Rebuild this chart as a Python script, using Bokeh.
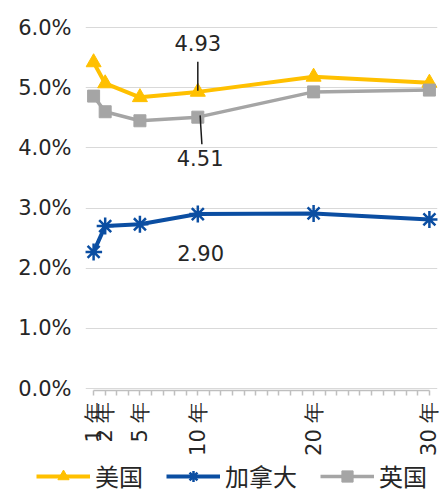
import math
from bokeh.plotting import figure
from bokeh.layouts import column, row
from bokeh.models import (Range1d, FixedTicker, PrintfTickFormatter, Legend, LegendItem,
                          ColumnDataSource)
from bokeh.core.properties import value
from bokeh.embed import file_html
from bokeh.resources import INLINE

# ---- data ----
years = [1, 2, 5, 10, 20, 30]
year_labels = ["1 年", "2 年", "5 年", "10 年", "20 年", "30 年"]
us = [5.42, 5.07, 4.84, 4.93, 5.18, 5.08]
ca = [2.27, 2.70, 2.73, 2.90, 2.91, 2.81]
uk = [4.86, 4.60, 4.45, 4.51, 4.93, 4.96]
series_names = ["美国", "加拿大", "英国"]
y_ticks = [0, 1, 2, 3, 4, 5, 6]

US_C = "#FFC000"
CA_C = "#0B4EA2"
UK_C = "#A5A5A5"
TXT = "#262626"
NUM_FONT = "DejaVu Sans"
CJK_FONT = "Noto Sans CJK SC"

p = figure(width=441, height=458, output_backend="svg", toolbar_location=None,
           x_range=Range1d(0.3, 30.7), y_range=Range1d(-0.033, 6.05),
           min_border_left=85, min_border_right=4, min_border_top=24,
           min_border_bottom=66)
p.outline_line_color = None
p.background_fill_color = "white"
p.border_fill_color = "white"

# grid
p.xgrid.grid_line_color = None
p.ygrid.ticker = FixedTicker(ticks=y_ticks)
p.ygrid.grid_line_color = "#D9D9D9"
p.ygrid.grid_line_width = 1.2

# y axis
p.yaxis.ticker = FixedTicker(ticks=y_ticks)
p.yaxis.formatter = PrintfTickFormatter(format="%.1f%%")
p.yaxis.axis_line_color = None
p.yaxis.major_tick_line_color = None
p.yaxis.minor_tick_line_color = None
p.yaxis.major_label_standoff = 8
p.yaxis.major_label_text_font = NUM_FONT
p.yaxis.major_label_text_font_size = "21px"
p.yaxis.major_label_text_color = TXT

# x axis
all_years = list(range(1, 31))
p.xaxis.ticker = FixedTicker(ticks=all_years)
overrides = {y: "" for y in all_years}
for y, lab in zip(years, year_labels):
    overrides[y] = lab
p.xaxis.major_label_overrides = overrides
p.xaxis.bounds = (1, 30)
p.xaxis.axis_line_color = "#BFBFBF"
p.xaxis.axis_line_width = 1.5
p.xaxis.major_tick_line_color = "#BFBFBF"
p.xaxis.major_tick_line_width = 1.5
p.xaxis.major_tick_in = 0
p.xaxis.major_tick_out = 5
p.xaxis.minor_tick_line_color = None
p.xaxis.major_label_orientation = math.pi / 2
p.xaxis.major_label_standoff = 6
p.xaxis.major_label_text_font = NUM_FONT
p.xaxis.major_label_text_font_size = "21px"
p.xaxis.major_label_text_color = TXT

# series
l_us = p.line(years, us, line_color=US_C, line_width=4)
m_us = p.scatter(years, us, marker="triangle", size=15, fill_color=US_C, line_color=US_C)
l_ca = p.line(years, ca, line_color=CA_C, line_width=4)
m_ca = p.scatter(years, ca, marker="asterisk", size=17, line_color=CA_C, line_width=2.5)
l_uk = p.line(years, uk, line_color=UK_C, line_width=3.5)
m_uk = p.scatter(years, uk, marker="square", size=12, fill_color=UK_C, line_color=UK_C)

# data labels at 10年
i10 = years.index(10)
p.segment(x0=[10, 10.2], y0=[us[i10] + 0.5, uk[i10] + 0.03],
          x1=[10, 10.35], y1=[us[i10] + 0.02, uk[i10] - 0.45],
          line_color="#1a1a1a", line_width=1.5)
lab_src = ColumnDataSource(dict(
    x=[10, 10.2, 10.25],
    y=[us[i10] + 0.82, uk[i10] - 0.68, ca[i10] - 0.65],
    t=["%.2f" % us[i10], "%.2f" % uk[i10], "%.2f" % ca[i10]]))
p.text(x="x", y="y", text="t", source=lab_src, text_align="center",
       text_baseline="middle", text_font=value(NUM_FONT), text_font_size="21px",
       text_color=TXT)

# ---- legend strip (separate small figure) ----
q = figure(width=441, height=35, output_backend="svg", toolbar_location=None,
           x_range=Range1d(0, 1), y_range=Range1d(0, 1),
           min_border_left=0, min_border_right=0, min_border_top=0, min_border_bottom=0,
           x_axis_type=None, y_axis_type=None)
q.outline_line_color = None
q.xgrid.visible = False
q.ygrid.visible = False
ox = [-5]
oy = [-5]
ql_us = q.line(ox, oy, line_color=US_C, line_width=4)
qm_us = q.scatter(ox, oy, marker="triangle", size=15, fill_color=US_C, line_color=US_C)
ql_ca = q.line(ox, oy, line_color=CA_C, line_width=4)
qm_ca = q.scatter(ox, oy, marker="asterisk", size=17, line_color=CA_C, line_width=2.5)
ql_uk = q.line(ox, oy, line_color=UK_C, line_width=3.5)
qm_uk = q.scatter(ox, oy, marker="square", size=12, fill_color=UK_C, line_color=UK_C)

legend = Legend(items=[LegendItem(label=series_names[0], renderers=[ql_us, qm_us]),
                       LegendItem(label=series_names[1], renderers=[ql_ca, qm_ca]),
                       LegendItem(label=series_names[2], renderers=[ql_uk, qm_uk])],
                orientation="horizontal", location=(36, 0),
                label_text_font=CJK_FONT, label_text_font_size="24px",
                label_text_color=TXT, glyph_width=54, glyph_height=28,
                label_standoff=5, spacing=23, padding=0, margin=0,
                border_line_color=None, background_fill_alpha=0)
q.add_layout(legend, "center")

open("out.html", "w").write(file_html(column(p, row(q), spacing=0), INLINE))
